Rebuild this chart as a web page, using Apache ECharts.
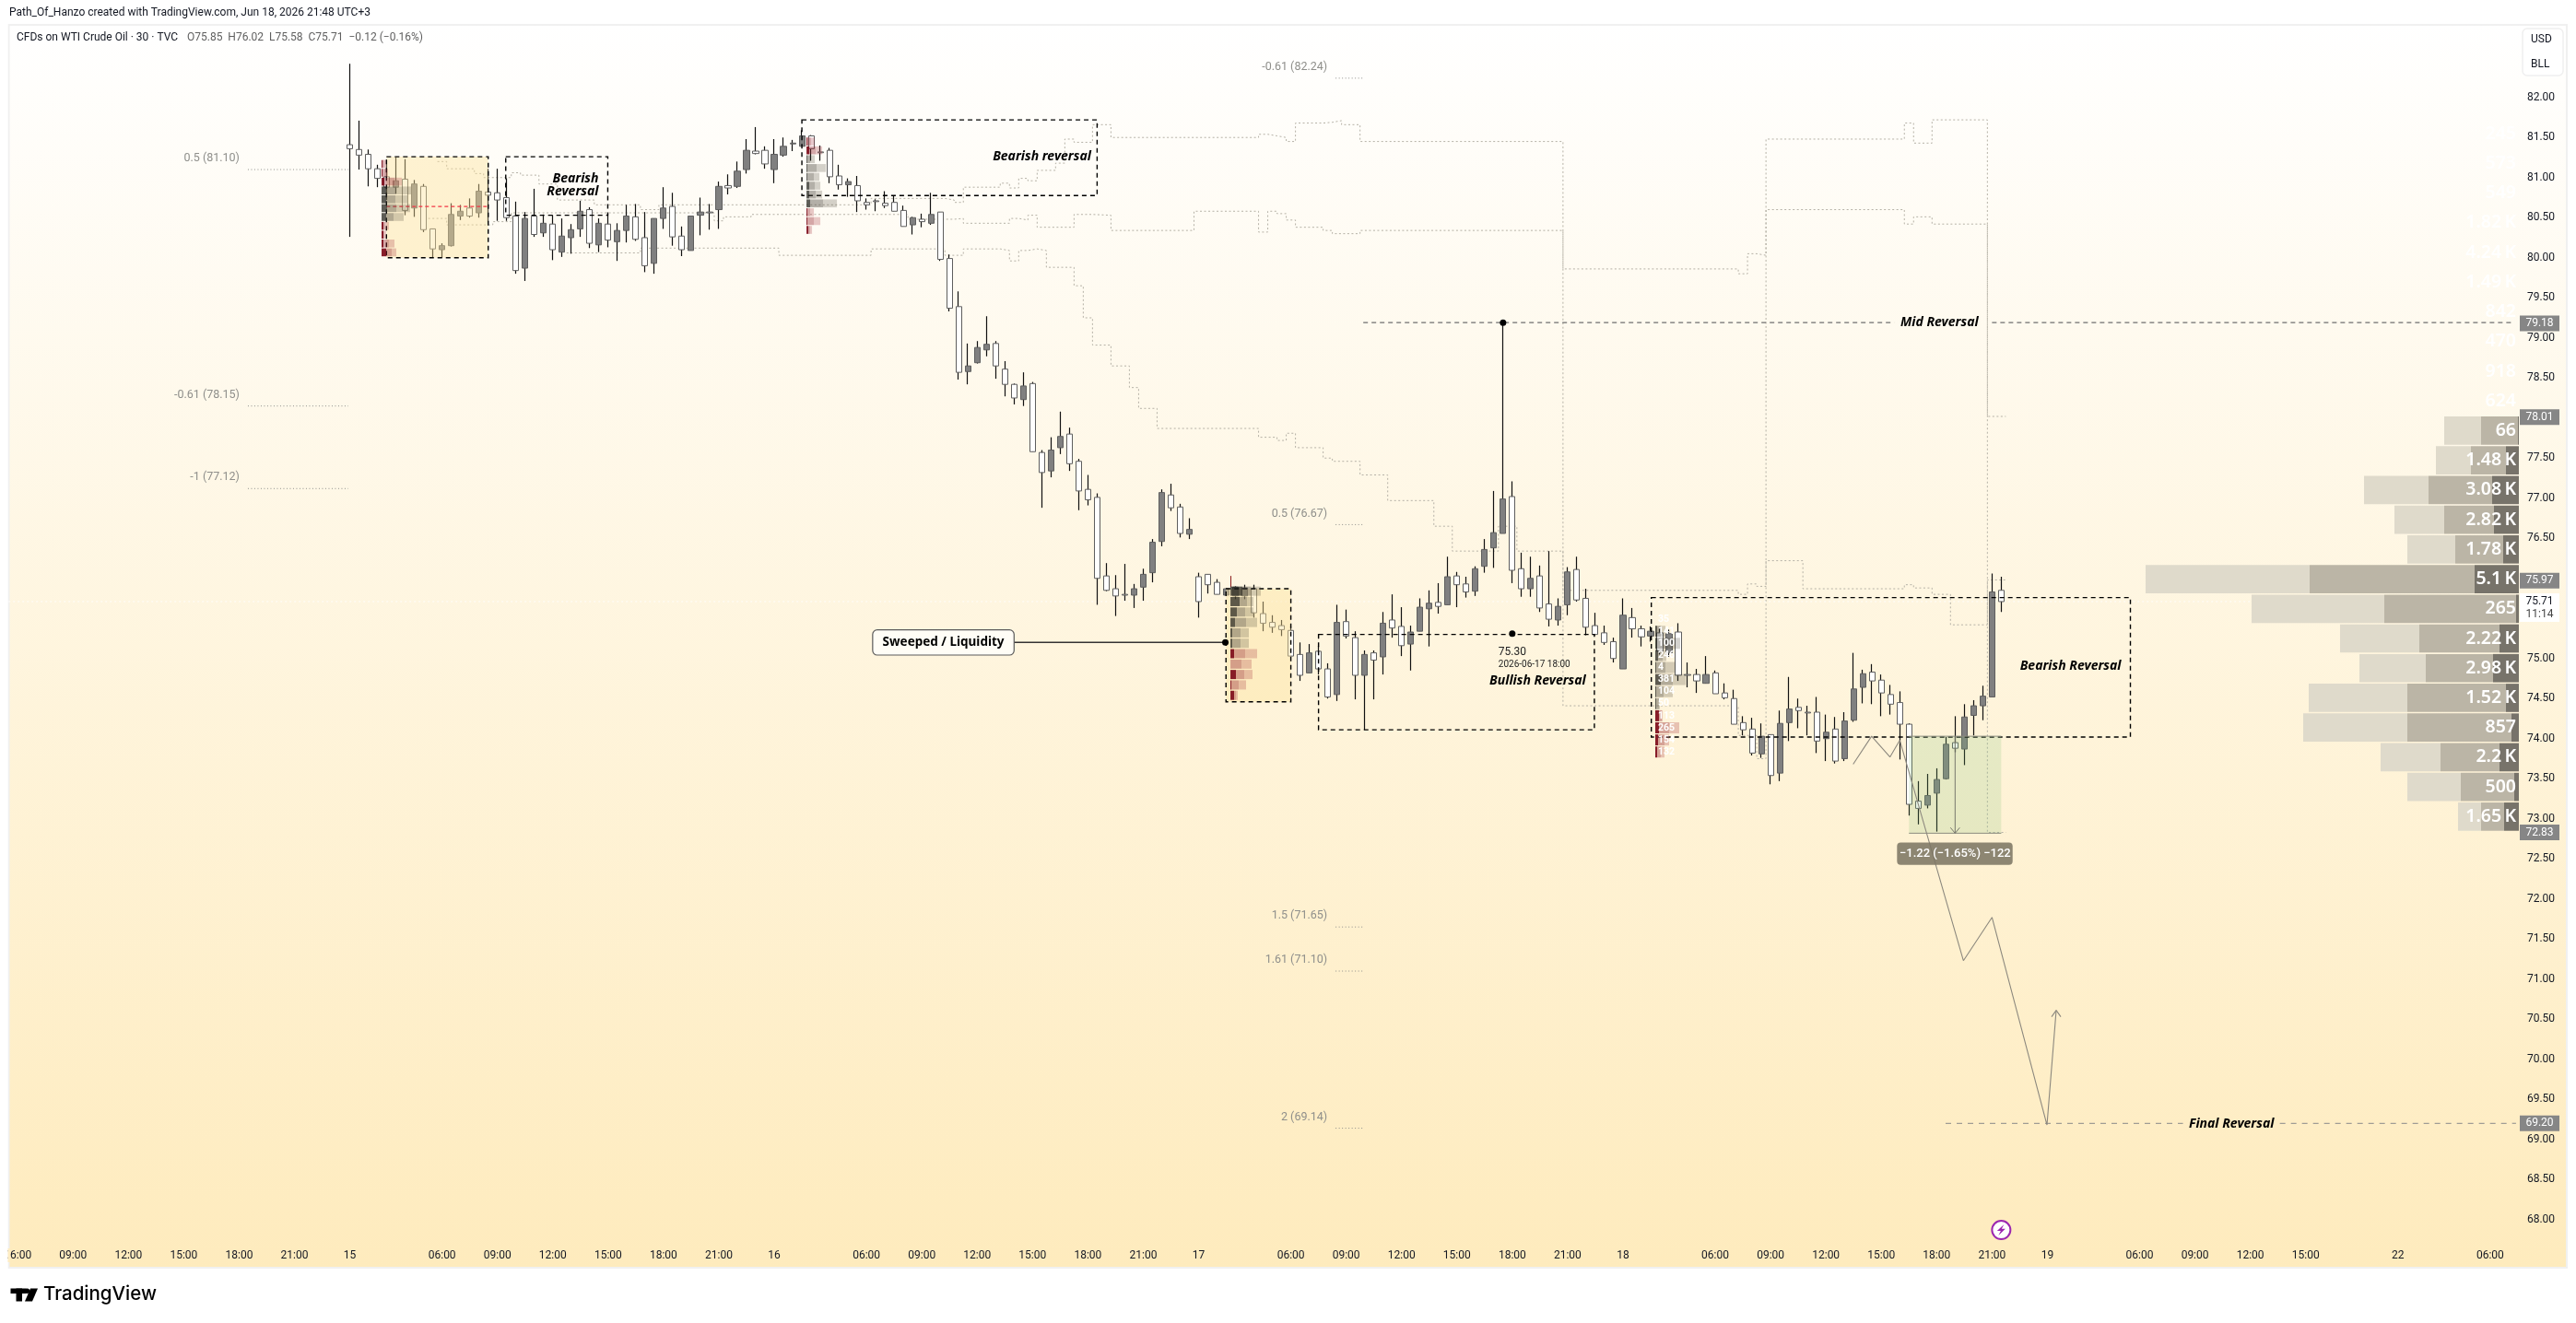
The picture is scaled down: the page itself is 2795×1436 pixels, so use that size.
<!DOCTYPE html>
<html>
<head>
<meta charset="utf-8">
<title>WTI Crude Oil 30</title>
<style>
  html, body { margin: 0; padding: 0; background: #fff; }
  #chart { width: 2795px; height: 1436px; }
</style>
<script src="https://cdn.jsdelivr.net/npm/echarts@6/dist/echarts.min.js"></script>
</head>
<body>
<div id="chart"></div>
<script>
// candles. index 0 is the bar under the "15" day label
const opens = [
  81.41,81.35,81.29,81.11,81.01,80.88,80.98,80.62,80.89,80.36,
  80.10,80.15,80.52,80.62,80.56,80.82,80.81,80.75,80.52,79.87,
  80.52,80.31,80.42,80.07,80.25,80.36,80.60,80.16,80.42,80.20,
  80.34,80.51,80.25,79.93,80.49,80.64,80.27,80.09,80.53,80.57,
  80.60,80.90,80.89,81.10,81.33,81.34,81.10,81.28,81.42,81.39,
  81.52,81.32,81.34,81.02,80.91,80.90,80.69,80.71,80.68,80.69,
  80.59,80.41,80.48,80.43,80.57,79.99,79.39,78.58,78.69,78.85,
  78.93,78.61,78.42,78.23,78.43,77.57,77.34,77.63,77.80,77.46,
  77.11,77.01,76.03,75.87,75.80,75.79,75.89,76.07,76.46,77.04,
  76.89,76.55,76.02,76.05,75.95,75.79,75.78,75.78,75.87,75.56,
  75.45,75.41,75.35,75.05,74.82,75.09,74.87,74.55,75.46,75.26,
  74.79,75.07,75.02,75.48,75.40,75.18,75.34,75.62,75.70,75.67,
  76.03,75.93,75.84,76.15,76.38,76.56,77.02,76.12,75.87,76.03,
  75.68,75.48,75.67,76.11,75.75,75.41,75.32,75.21,74.87,75.51,
  75.37,75.28,75.32,75.07,75.33,74.80,74.80,74.69,74.82,74.57,
  74.50,74.20,74.12,73.81,74.05,73.57,74.20,74.39,74.33,74.33,
  74.00,74.12,73.75,74.23,74.64,74.83,74.73,74.55,74.45,74.18,
  73.22,73.17,73.32,73.50,73.95,73.87,74.29,74.41,74.52,75.85
];
const highs = [
  82.42,81.71,81.35,81.16,81.22,81.25,81.23,80.97,80.92,80.36,
  80.18,80.68,80.66,80.74,80.92,81.11,81.11,80.99,80.70,80.57,
  80.86,80.54,80.53,80.49,80.42,80.71,80.63,80.49,80.55,80.43,
  80.66,80.67,80.57,80.49,80.88,80.81,80.39,80.52,80.75,80.67,
  80.95,81.04,81.20,81.48,81.63,81.39,81.48,81.50,81.47,81.59,
  81.53,81.40,81.37,81.16,80.99,81.02,80.74,80.73,80.83,80.77,
  80.65,80.51,80.55,80.81,80.57,80.04,79.58,78.93,78.96,79.27,
  78.96,78.71,78.43,78.57,78.45,77.60,77.76,78.08,77.88,77.49,
  77.29,77.06,76.19,76.04,76.18,75.93,76.12,76.49,77.11,77.18,
  76.93,76.75,76.07,76.05,75.99,75.88,75.90,75.92,75.92,75.71,
  75.54,75.48,75.40,75.20,75.18,75.16,74.94,75.67,75.61,75.34,
  75.10,75.10,75.58,75.80,75.64,75.41,75.75,75.85,75.94,76.27,
  76.08,76.02,76.15,76.49,77.09,79.19,77.21,76.32,76.27,76.16,
  76.34,75.75,76.14,76.27,75.87,75.57,75.41,75.26,75.75,75.63,
  75.41,75.40,75.38,75.36,75.44,74.95,74.87,75.03,74.85,74.69,
  74.61,74.28,74.26,74.19,74.05,74.35,74.77,74.50,74.41,74.52,
  74.30,74.27,74.33,75.07,74.86,74.93,74.80,74.67,74.59,74.19,
  73.47,73.56,73.63,74.02,74.28,74.43,74.48,74.66,76.06,76.02
];
const lows = [
  80.26,81.10,80.89,80.88,80.72,80.80,80.53,80.51,80.32,80.00,
  80.00,80.14,80.47,80.50,80.50,80.45,80.46,80.46,79.80,79.71,
  80.26,80.26,79.97,80.01,80.05,80.26,80.12,80.07,80.13,79.96,
  80.19,80.21,79.82,79.80,80.36,80.15,80.02,80.09,80.28,80.35,
  80.36,80.79,80.87,81.05,81.29,81.11,80.93,81.26,81.33,81.39,
  81.21,81.21,80.93,80.85,80.76,80.57,80.60,80.58,80.62,80.58,
  80.39,80.29,80.38,80.41,79.96,79.33,78.48,78.42,78.68,78.77,
  78.49,78.27,78.17,78.15,77.58,76.88,77.26,77.55,77.34,76.85,
  76.91,75.67,75.84,75.53,75.72,75.63,75.72,75.95,76.40,76.84,
  76.51,76.49,75.51,75.81,75.80,75.79,75.74,75.74,75.51,75.34,
  75.32,75.28,75.03,74.72,74.82,74.80,74.50,74.47,75.25,74.49,
  74.11,74.49,74.80,75.26,75.03,74.85,75.34,75.15,75.56,75.67,
  75.64,75.76,75.78,76.07,76.13,76.56,75.94,75.77,75.77,75.58,
  75.40,75.41,75.54,75.71,75.29,75.29,75.17,74.95,74.87,75.26,
  75.15,75.21,75.05,75.02,74.72,74.64,74.57,74.69,74.56,74.49,
  74.18,74.04,73.79,73.76,73.43,73.47,73.97,74.13,74.04,73.82,
  73.72,73.69,73.72,74.21,74.44,74.43,74.28,74.30,73.74,73.04,
  72.93,73.13,72.84,73.49,73.83,73.67,74.04,74.23,74.52,75.58
];
const closes = [
  81.36,81.28,81.11,80.99,80.88,80.96,80.59,80.92,80.35,80.11,
  80.15,80.54,80.58,80.52,80.83,80.78,80.72,80.50,79.84,80.49,
  80.29,80.43,80.10,80.27,80.35,80.58,80.18,80.43,80.22,80.34,
  80.52,80.23,79.90,80.49,80.62,80.26,80.10,80.52,80.57,80.56,
  80.89,80.87,81.08,81.34,81.30,81.17,81.29,81.39,81.43,81.52,
  81.36,81.31,81.01,80.91,80.95,80.71,80.66,80.70,80.65,80.58,
  80.39,80.50,80.45,80.54,79.98,79.37,78.57,78.65,78.88,78.92,
  78.65,78.42,78.25,78.40,77.58,77.32,77.60,77.77,77.43,77.09,
  76.98,76.00,75.85,75.78,75.79,75.87,76.05,76.45,77.07,76.88,
  76.56,76.61,75.71,75.92,75.80,75.87,75.89,75.88,75.57,75.44,
  75.39,75.36,75.03,74.79,75.07,74.87,74.52,75.45,75.28,74.79,
  75.05,74.98,75.44,75.38,75.16,75.33,75.64,75.69,75.65,76.02,
  75.92,75.83,76.12,76.36,76.57,76.99,76.10,75.87,76.00,75.63,
  75.49,75.65,76.08,75.73,75.39,75.30,75.20,75.00,75.54,75.37,
  75.27,75.34,75.09,75.31,74.79,74.79,74.72,74.80,74.56,74.51,
  74.18,74.11,73.82,74.03,73.54,74.19,74.37,74.35,74.32,73.97,
  74.08,73.72,74.22,74.62,74.81,74.72,74.57,74.43,74.18,73.18,
  73.13,73.29,73.49,73.93,73.88,74.27,74.41,74.53,75.83,75.71
];

// time axis, bars counted from the "15" label
const tickBars = [-36,-30,-24,-18,-12,-6,0,10,16,22,28,34,40,46,56,62,68,74,80,86,92,102,108,114,120,126,132,138,148,154,160,166,172,178,184,194,200,206,212,222,232];
const tickLabels = ['06:00','09:00','12:00','15:00','18:00','21:00','15','06:00','09:00','12:00','15:00','18:00','21:00','16','06:00','09:00','12:00','15:00','18:00','21:00','17','06:00','09:00','12:00','15:00','18:00','21:00','18','06:00','09:00','12:00','15:00','18:00','21:00','19','06:00','09:00','12:00','15:00','22','06:00'];
const priceTicks = [82,81.5,81,80.5,80,79.5,79,78.5,77.5,77,76.5,75,74.5,74,73.5,73,72.5,72,71.5,71,70.5,70,69.5,69,68.5,68];

// stepped dotted traces: [bar, price], each price holds until the next point
const stepUpper = [[9.5,81.20],[10.5,81.11],[13.5,81.05],[14.5,81.00],[17.5,81.06],[18.5,81.03],[20.5,80.92],[22.5,80.72],[26.5,80.66],[31.5,80.60],[33.5,80.66],[56.5,80.74],[64.5,80.72],[65.5,80.69],[66.5,80.88],[70.5,80.93],[71.5,80.87],[72.5,80.99],[73.5,80.96],[74.5,81.09],[76.5,81.18],[77.5,81.48],[78.5,81.44],[80.5,81.66],[82.5,81.50],[98.5,81.54],[99.5,81.52],[100.5,81.50],[101.5,81.45],[102.5,81.68],[105.5,81.69],[106.5,81.71],[107.5,81.66],[109.5,81.45],[131.5,79.86],[150.5,79.80],[151.5,80.05],[152.5,80.03],[153.5,81.48],[168.5,81.68],[169.5,81.43],[171.5,81.72],[177.5,78.02],[179.5,78.02]];
const stepMiddle = [[8.5,80.49],[10.5,80.41],[15.5,80.45],[17.5,80.56],[39.5,80.46],[40.5,80.51],[43.5,80.54],[60.5,80.48],[65.5,80.49],[66.5,80.43],[71.5,80.49],[72.5,80.47],[73.5,80.53],[74.5,80.38],[78.5,80.54],[80.5,80.53],[82.5,80.34],[91.5,80.58],[98.5,80.32],[99.5,80.58],[100.5,80.55],[101.5,80.47],[102.5,80.38],[105.5,80.34],[106.5,80.30],[109.5,80.34],[131.5,74.41],[150.5,74.04],[152.5,73.75],[153.5,80.60],[168.5,80.42],[169.5,80.51],[171.5,80.42],[177.5,72.83],[179.5,72.83]];
const stepLower = [[23.5,80.06],[31.5,80.12],[46.5,80.03],[56.5,80.11],[64.5,80.03],[66.5,80.11],[70.5,80.09],[71.5,79.96],[72.5,80.09],[73.5,80.11],[74.5,80.09],[75.5,79.88],[78.5,79.65],[79.5,79.25],[80.5,78.91],[82.5,78.65],[84.5,78.38],[85.5,78.12],[87.5,77.87],[98.5,77.76],[100.5,77.72],[101.5,77.81],[102.5,77.63],[105.5,77.50],[106.5,77.46],[109.5,77.29],[112.5,76.97],[117.5,76.65],[119.5,76.34],[124.5,76.65],[126.5,76.34],[131.5,75.85],[150.5,75.80],[151.5,75.93],[152.5,75.90],[153.5,76.22],[157.5,75.87],[168.5,75.92],[169.5,75.88],[171.5,75.80],[173.5,75.42],[177.5,75.98],[179.5,75.98]];

// fib levels
const fibLabels = ['0.5 (81.10)','-0.61 (78.15)','-1 (77.12)','-0.61 (82.24)','0.5 (76.67)','1.5 (71.65)','1.61 (71.10)','2 (69.14)'];
const fibPrices = [81.10,78.15,77.12,82.24,76.67,71.65,71.10,69.14];
const fibFrom = [-11.05,-11.05,-11.05,106.85,106.85,106.85,106.85,106.85];
const fibTo = [-0.16,-0.16,-0.16,109.85,109.85,109.85,109.85,109.85];

// reversal zones
const zoneFrom = [3.97,16.9,49,94.97,105,141.07];
const zoneTo = [15,27.96,81,102,134.9,193];
const zoneHigh = [81.26,81.26,81.72,75.87,75.30,75.76];
const zoneLow = [80.00,80.53,80.775,74.46,74.11,74.02];

// drawn forecast
const forecastPath = [[162.95,73.68],[164.95,74.03],[166.94,73.77],[168,73.98],[174.9,71.23],[178,71.77],[183.96,69.18],[184.96,70.61]];
const forecastHead = [[184.46,70.53],[184.96,70.61],[185.46,70.53]];

// measure tool
const measureFrom = 169, measureTo = 179, measureHigh = 74.03, measureLow = 72.82;

// price tags on the axis
const tagPrices = [79.18,78.01,75.97,72.83,69.20];

// volume profile at the right edge, top row first
const profileLabels = ['245','573','549','1.82\u2009K','4.24\u2009K','1.49\u2009K','842','470','918','624','66','1.48\u2009K','3.08\u2009K','2.82\u2009K','1.78\u2009K','5.1\u2009K','265','2.22\u2009K','2.98\u2009K','1.52\u2009K','857','2.2\u2009K','500','1.65\u2009K'];
const profileDark = [0,0,0,0,0,0,0,0,0,0,1,14,29,27,17,48,3,21,28,14,8,21,5,16];
const profileMid = [0,0,0,0,0,0,0,0,0,0,40,38,69,54,52,179,143,87,73,107,113,64,58,25];
const profileLight = [0,0,0,0,0,0,0,0,0,0,40,38,70,54,52,178,144,86,72,107,113,65,58,25];

// session profiles: [dark, mid, light, red row]
const sessionA = [[1,2,2,1],[1,4,2,1],[3,11,8,1],[5,11,16,0],[5,10,13,0],[6,10,15,0],[5,8,11,0],[2,2,4,1],[2,1,2,1],[2,6,6,1],[5,6,5,1]];
const sessionB = [[1,4,4,1],[3,7,7,1],[1,3,5,0],[1,10,10,0],[1,7,6,0],[3,6,6,0],[3,7,7,0],[4,14,15,0],[1,3,4,1],[1,7,7,1],[2,2,2,1]];
const sessionC = [[13,9,11,0],[10,8,7,0],[7,9,9,0],[5,12,12,0],[2,9,9,0],[2,9,9,0],[4,12,13,1],[0,12,11,1],[6,9,9,1],[1,8,8,1],[4,2,2,1]];
const sessionD = [[0,0,0,0],[2,4,5,0],[2,12,13,0],[3,5,4,0],[1,10,11,0],[6,13,14,0],[1,8,10,0],[1,3,1,0],[4,3,1,1],[4,11,11,1],[3,7,5,1],[2,4,4,1]];
const sessionDLabels = ['35','141','100','246','4','381','104','50','113','265','154','132'];

const barsBefore = 37;
const barCount = 273;
const categories = new Array(barCount).fill('');
tickBars.forEach((b, k) => { categories[b + barsBefore] = tickLabels[k]; });

const bodyColorUp = '#808080';
const borderGrey = '#5e5e5e';
const uiFont = 'Roboto, sans-serif';
const noteFont = 'italic bold 14px "Noto Sans", sans-serif';
const dim = '#8f8f8b';
const stepColor = '#b5b1a6';

const chart = echarts.init(document.getElementById('chart'), null, { renderer: 'canvas' });

// plain path on the bar/price scale
function path(points, color, width, dash, z, extra) {
  return Object.assign({
    type: 'line', xAxisIndex: 1, yAxisIndex: 0, data: points, symbol: 'none', silent: true, z: z || 3,
    lineStyle: { color: color, width: width, type: dash || 'solid' }
  }, extra || {});
}

// custom series: one row per element group, drawn by the given function
function overlay(rows, draw, z) {
  return {
    type: 'custom', xAxisIndex: 1, yAxisIndex: 0, silent: true, clip: false, z: z || 4,
    data: rows.map((r, k) => [k]),
    renderItem: function (params, api) { return draw(rows[params.dataIndex], api, params); }
  };
}

function note(text, bar, price, font, fill, align, dx, dy) {
  return { text, bar, price, font, fill, align: align || 'left', dx: dx || 0, dy: dy || 0 };
}
const notes = [
  note('Bearish', 26.96, 80.985, noteFont, '#000', 'right'),
  note('Reversal', 26.96, 80.82, noteFont, '#000', 'right'),
  note('Bearish reversal', 80.35, 81.26, noteFont, '#000', 'right'),
  note('Bullish Reversal', 133.98, 74.72, noteFont, '#000', 'right'),
  note('Bearish Reversal', 181.03, 74.90, noteFont, '#000'),
  note('Mid Reversal', 168.07, 79.19, noteFont, '#000'),
  note('Final Reversal', 199.34, 69.19, noteFont, '#000'),
  note('75.30', 124.5, 75.08, '12px ' + uiFont, '#222'),
  note('2026-06-17 18:00', 124.5, 74.92, '10px ' + uiFont, '#222')
];
fibLabels.forEach((t, k) => notes.push(note(t, fibFrom[k], fibPrices[k], '12.5px ' + uiFont, dim, 'right', -9, -12)));

function rectShape(x, y, w, h) { return { x, y, width: w, height: h }; }

function sessionSeries(rows, startBar, topPrice, step, rowH, labels) {
  return overlay(rows.map((r, k) => ({ r, k })), function (row, api) {
    const pos = api.coord([startBar, topPrice - row.k * step]);
    const red = row.r[3];
    const fills = red
      ? ['rgba(125,10,25,0.92)', 'rgba(150,40,50,0.4)', 'rgba(170,60,70,0.27)']
      : ['rgba(30,30,25,0.72)', 'rgba(75,70,60,0.42)', 'rgba(75,70,55,0.24)'];
    const kids = [];
    let x = pos[0];
    [0, 1, 2].forEach(function (s) {
      kids.push({ type: 'rect', shape: rectShape(x, pos[1] - rowH / 2, row.r[s], rowH), style: { fill: fills[s] } });
      x += row.r[s];
    });
    if (labels) {
      kids.push({ type: 'text', style: { text: labels[row.k], x: pos[0] + 3, y: pos[1], fill: '#fff', font: 'bold 10.5px ' + uiFont, verticalAlign: 'middle' } });
    }
    return { type: 'group', children: kids };
  }, 5);
}

const option = {
  animation: false,
  grid: [
    { left: 4.2, top: 27, width: 2732.73, height: 1349, containLabel: false },
    { left: 2313, top: 129, width: 420, height: 773.5 }
  ],
  xAxis: [
    { type: 'category', gridIndex: 0, data: categories, axisLine: { show: false }, axisTick: { show: false }, splitLine: { show: false },
      axisLabel: { show: true, interval: 0, inside: true, margin: 7, color: '#131722', fontFamily: 'Roboto', fontSize: 12, hideOverlap: false } },
    { type: 'value', gridIndex: 0, min: -barsBefore - 0.5, max: barCount - barsBefore - 0.5, show: false },
    { type: 'value', gridIndex: 1, min: 0, max: 420, inverse: true, show: false }
  ],
  yAxis: [
    { type: 'value', gridIndex: 0, position: 'right', min: 67.399, max: 82.905,
      axisLine: { show: false }, axisTick: { show: false }, splitLine: { show: false },
      axisLabel: { customValues: priceTicks, margin: 5, color: '#131722', fontFamily: 'Roboto', fontSize: 12, formatter: function (v) { return v.toFixed(2); } } },
    { type: 'category', gridIndex: 1, inverse: true, show: false, data: profileLabels }
  ],
  graphic: [
    { type: 'rect', z: -10, shape: rectShape(9.5, 27, 2775.5, 1349),
      style: { stroke: '#f0f0f0', lineWidth: 2, fill: new echarts.graphic.LinearGradient(0, 0, 0, 1, [{ offset: 0, color: '#ffffff' }, { offset: 1, color: '#feebbd' }]) } },
    // left strip hides the clipped part of the first time label
    { type: 'rect', z: 100, shape: rectShape(0, 0, 8.5, 1436), style: { fill: '#fff' } },
    { type: 'rect', z: 100, shape: rectShape(8.5, 1355, 2.5, 15), style: { fill: '#feedc3' } },
    { type: 'text', z: 101, left: 10, top: 8, style: { text: 'Path_Of_Hanzo created with TradingView.com, Jun 18, 2026 21:48 UTC+3', font: '12px ' + uiFont, fill: '#131722' } },
    { type: 'text', z: 101, left: 18, top: 35, style: { text: 'CFDs on WTI Crude Oil \u00b7 30 \u00b7 TVC', font: '12px ' + uiFont, fill: '#131722' } },
    { type: 'text', z: 101, left: 203, top: 35, style: { text: 'O75.85  H76.02  L75.58  C75.71  \u22120.12 (\u22120.16%)', font: '12px ' + uiFont, fill: '#5f5f5f' } },
    { type: 'rect', z: 101, shape: Object.assign(rectShape(2737, 31, 44, 51), { r: 5 }), style: { fill: '#fff', stroke: '#efefef', lineWidth: 1.5 } },
    { type: 'text', z: 102, left: 2746, top: 37, style: { text: 'USD', font: '12px ' + uiFont, fill: '#131722' } },
    { type: 'text', z: 102, left: 2746, top: 64, style: { text: 'BLL', font: '12px ' + uiFont, fill: '#131722' } },
    // TradingView mark
    { type: 'rect', z: 101, shape: rectShape(11.5, 1398.5, 17, 5.5), style: { fill: '#000' } },
    { type: 'rect', z: 101, shape: rectShape(17.5, 1398.5, 6.5, 14), style: { fill: '#000' } },
    { type: 'circle', z: 101, shape: { cx: 29.5, cy: 1401.2, r: 2.7 }, style: { fill: '#000' } },
    { type: 'polygon', z: 101, shape: { points: [[33, 1398.5], [41, 1398.5], [35, 1412.5], [27, 1412.5]] }, style: { fill: '#000' } },
    { type: 'text', z: 101, left: 47, top: 1394, style: { text: 'TradingView', font: '500 20.5px Inter, sans-serif', fill: '#000' } }
  ],
  series: [
    path(stepUpper, stepColor, 1, [2, 2.5], 1, { step: 'end' }),
    path(stepMiddle, stepColor, 1, [2, 2.5], 1, { step: 'end' }),
    path(stepLower, stepColor, 1, [2, 2.5], 1, { step: 'end' }),
    path([[-37, 75.71], [235, 75.71]], 'rgba(255,255,255,0.9)', 1, [2, 3], 1),

    // wicks
    { type: 'candlestick', xAxisIndex: 0, yAxisIndex: 0, barWidth: 1, silent: true, z: 2,
      data: opens.map((o, i) => [i + barsBefore, o, closes[i], lows[i], highs[i]]),
      encode: { x: 0, y: [1, 2, 3, 4] },
      itemStyle: { color: '#111', color0: '#111', borderColor: '#111', borderColor0: '#111', borderColorDoji: '#111', borderWidth: 1.2 } },
    // bodies
    { type: 'candlestick', xAxisIndex: 0, yAxisIndex: 0, barWidth: 6.6, silent: true, z: 2,
      data: opens.map((o, i) => [i + barsBefore, o, closes[i], Math.min(o, closes[i]), Math.max(o, closes[i])]),
      encode: { x: 0, y: [1, 2, 3, 4] },
      itemStyle: { color: bodyColorUp, color0: '#ffffff', borderColor: borderGrey, borderColor0: borderGrey, borderColorDoji: borderGrey, borderWidth: 1 } },

    // zones, above the candles as in the picture
    overlay(zoneFrom.map((b, k) => k), function (k, api) {
      const a = api.coord([zoneFrom[k], zoneHigh[k]]);
      const c = api.coord([zoneTo[k], zoneLow[k]]);
      const filled = k === 0 || k === 3;
      return { type: 'rect', shape: rectShape(a[0], a[1], c[0] - a[0], c[1] - a[1]),
        style: { fill: filled ? 'rgba(252,226,155,0.42)' : 'transparent', stroke: '#000', lineWidth: 1.4, lineDash: [5, 4] } };
    }, 3),
    path([[3.97, 80.64], [15, 80.64]], '#f23645', 1.2, [4, 3], 4),
    path([[95.5, 76.03], [95.5, 75.89]], '#8b1a1a', 1, 'solid', 3),

    // fib level stubs
    ...fibLabels.map((t, k) => path([[fibFrom[k], fibPrices[k]], [fibTo[k], fibPrices[k]]], '#8f8f8b', 1, [1, 2.5], 2)),

    // reversal levels
    path([[109.85, 79.19], [167.4, 79.19]], '#6f6f6f', 1.2, [5, 4], 3),
    path([[178, 79.19], [234.6, 79.19]], '#6f6f6f', 1.2, [5, 4], 3),
    path([[172.97, 69.20], [198.7, 69.20]], '#8a8a8a', 1, [6, 6], 3),
    path([[209.2, 69.20], [234.8, 69.20]], '#8a8a8a', 1, [6, 6], 3),

    // measure
    overlay([0], function (r, api) {
      const a = api.coord([measureFrom, measureHigh]);
      const c = api.coord([measureTo, measureLow]);
      return { type: 'rect', shape: rectShape(a[0], a[1], c[0] - a[0], c[1] - a[1]), style: { fill: 'rgba(130,195,120,0.2)' } };
    }, 3),
    path([[measureFrom, measureHigh], [measureTo, measureHigh]], '#8d8d80', 1, 'solid', 4),
    path([[measureFrom, measureLow], [measureTo, measureLow]], '#8d8d80', 1, 'solid', 4),
    path([[174, measureHigh], [174, measureLow]], '#77776c', 1, 'solid', 4),
    path([[173.5, 72.89], [174, measureLow], [174.5, 72.89]], '#77776c', 1, 'solid', 4),

    // forecast
    path(forecastPath, '#8c887e', 1.1, 'solid', 5),
    path(forecastHead, '#8c887e', 1.1, 'solid', 5),

    // callout line and anchor dots
    path([[72, 75.20], [94.9, 75.20]], '#333', 1.4, 'solid', 5),
    { type: 'scatter', xAxisIndex: 1, yAxisIndex: 0, symbolSize: 7, silent: true, z: 6, itemStyle: { color: '#000', opacity: 1 },
      data: [[94.9, 75.20], [125, 79.19], [126, 75.31]] },

    sessionSeries(sessionA, 3.44, 81.17, 0.1103, 8.6),
    sessionSeries(sessionB, 49.5, 81.45, 0.1103, 8.6),
    sessionSeries(sessionC, 95.45, 75.84, 0.13, 10),
    sessionSeries(sessionD, 141.5, 75.49, 0.1506, 12, sessionDLabels),

    // right hand volume profile
    { type: 'bar', xAxisIndex: 2, yAxisIndex: 1, stack: 'vol', barWidth: 30.7, silent: true, z: 3, data: profileDark, itemStyle: { color: '#77736a' },
      label: { show: true, position: 'insideRight', distance: 3, color: '#fff', fontFamily: 'Noto Sans', fontSize: 19.5, fontWeight: 600,
        formatter: function (p) { return profileLabels[p.dataIndex]; } } },
    { type: 'bar', xAxisIndex: 2, yAxisIndex: 1, stack: 'vol', barWidth: 30.7, silent: true, z: 2, data: profileMid, itemStyle: { color: '#bbb5a6' } },
    { type: 'bar', xAxisIndex: 2, yAxisIndex: 1, stack: 'vol', barWidth: 30.7, silent: true, z: 2, data: profileLight, itemStyle: { color: '#dfdacb' } },

    // notes
    overlay(notes, function (n, api) {
      const p = api.coord([n.bar, n.price]);
      return { type: 'text', style: { text: n.text, x: p[0] + n.dx, y: p[1] + n.dy, font: n.font, fill: n.fill, align: n.align, verticalAlign: 'middle' } };
    }, 7),

    // sweep callout box
    overlay([0], function (r, api) {
      const a = api.coord([56.67, 75.20]);
      const c = api.coord([72, 75.20]);
      return { type: 'group', children: [
        { type: 'rect', shape: Object.assign(rectShape(a[0], a[1] - 13.7, c[0] - a[0], 27.4), { r: 5 }), style: { fill: '#fffdf6', stroke: '#5a5a5a', lineWidth: 1.2 } },
        { type: 'text', style: { text: 'Sweeped / Liquidity', x: (a[0] + c[0]) / 2, y: a[1], font: 'bold 13.5px "Noto Sans", sans-serif', fill: '#000', align: 'center', verticalAlign: 'middle' } }
      ] };
    }, 7),

    // measure badge
    overlay([0], function (r, api) {
      const p = api.coord([174, measureLow]);
      return { type: 'group', children: [
        { type: 'rect', shape: Object.assign(rectShape(p[0] - 63, p[1] + 10, 125.4, 24.4), { r: 4 }), style: { fill: 'rgba(125,118,100,0.88)' } },
        { type: 'text', style: { text: '\u22121.22 (\u22121.65%) \u2212122', x: p[0], y: p[1] + 22.5, font: '500 13px ' + uiFont, fill: '#fff', align: 'center', verticalAlign: 'middle' } }
      ] };
    }, 6),

    // price tags
    overlay(tagPrices, function (price, api) {
      const p = api.coord([0, price]);
      return { type: 'group', children: [
        { type: 'rect', shape: rectShape(2734, p[1] - 8.5, 43, 17), style: { fill: '#868686' } },
        { type: 'text', style: { text: price.toFixed(2), x: 2755.5, y: p[1], font: '12px ' + uiFont, fill: '#fff', align: 'center', verticalAlign: 'middle' } }
      ] };
    }, 8),
    overlay([75.71], function (price, api) {
      const p = api.coord([0, price]);
      return { type: 'group', children: [
        { type: 'rect', shape: rectShape(2734, p[1] - 9, 43, 31), style: { fill: '#fff' } },
        { type: 'text', style: { text: price.toFixed(2), x: 2755.5, y: p[1], font: '12px ' + uiFont, fill: '#131722', align: 'center', verticalAlign: 'middle' } },
        { type: 'text', style: { text: '11:14', x: 2755.5, y: p[1] + 14, font: '12px ' + uiFont, fill: '#444', align: 'center', verticalAlign: 'middle' } }
      ] };
    }, 8),

    // event marker on the last bar
    overlay([0], function (r, api) {
      const p = api.coord([179, 67.87]);
      const x = p[0], y = p[1];
      return { type: 'group', children: [
        { type: 'circle', shape: { cx: x, cy: y, r: 10 }, style: { fill: '#fff', stroke: '#9c27b0', lineWidth: 2 } },
        { type: 'polygon', shape: { points: [[x + 3, y - 6], [x - 4.5, y + 1], [x - 0.5, y + 1], [x - 3, y + 6], [x + 4.5, y - 1.2], [x + 0.5, y - 1.2]] }, style: { fill: '#9c27b0' } }
      ] };
    }, 8)
  ]
};

chart.setOption(option);
window.addEventListener('resize', function () { chart.resize(); });
</script>
</body>
</html>
